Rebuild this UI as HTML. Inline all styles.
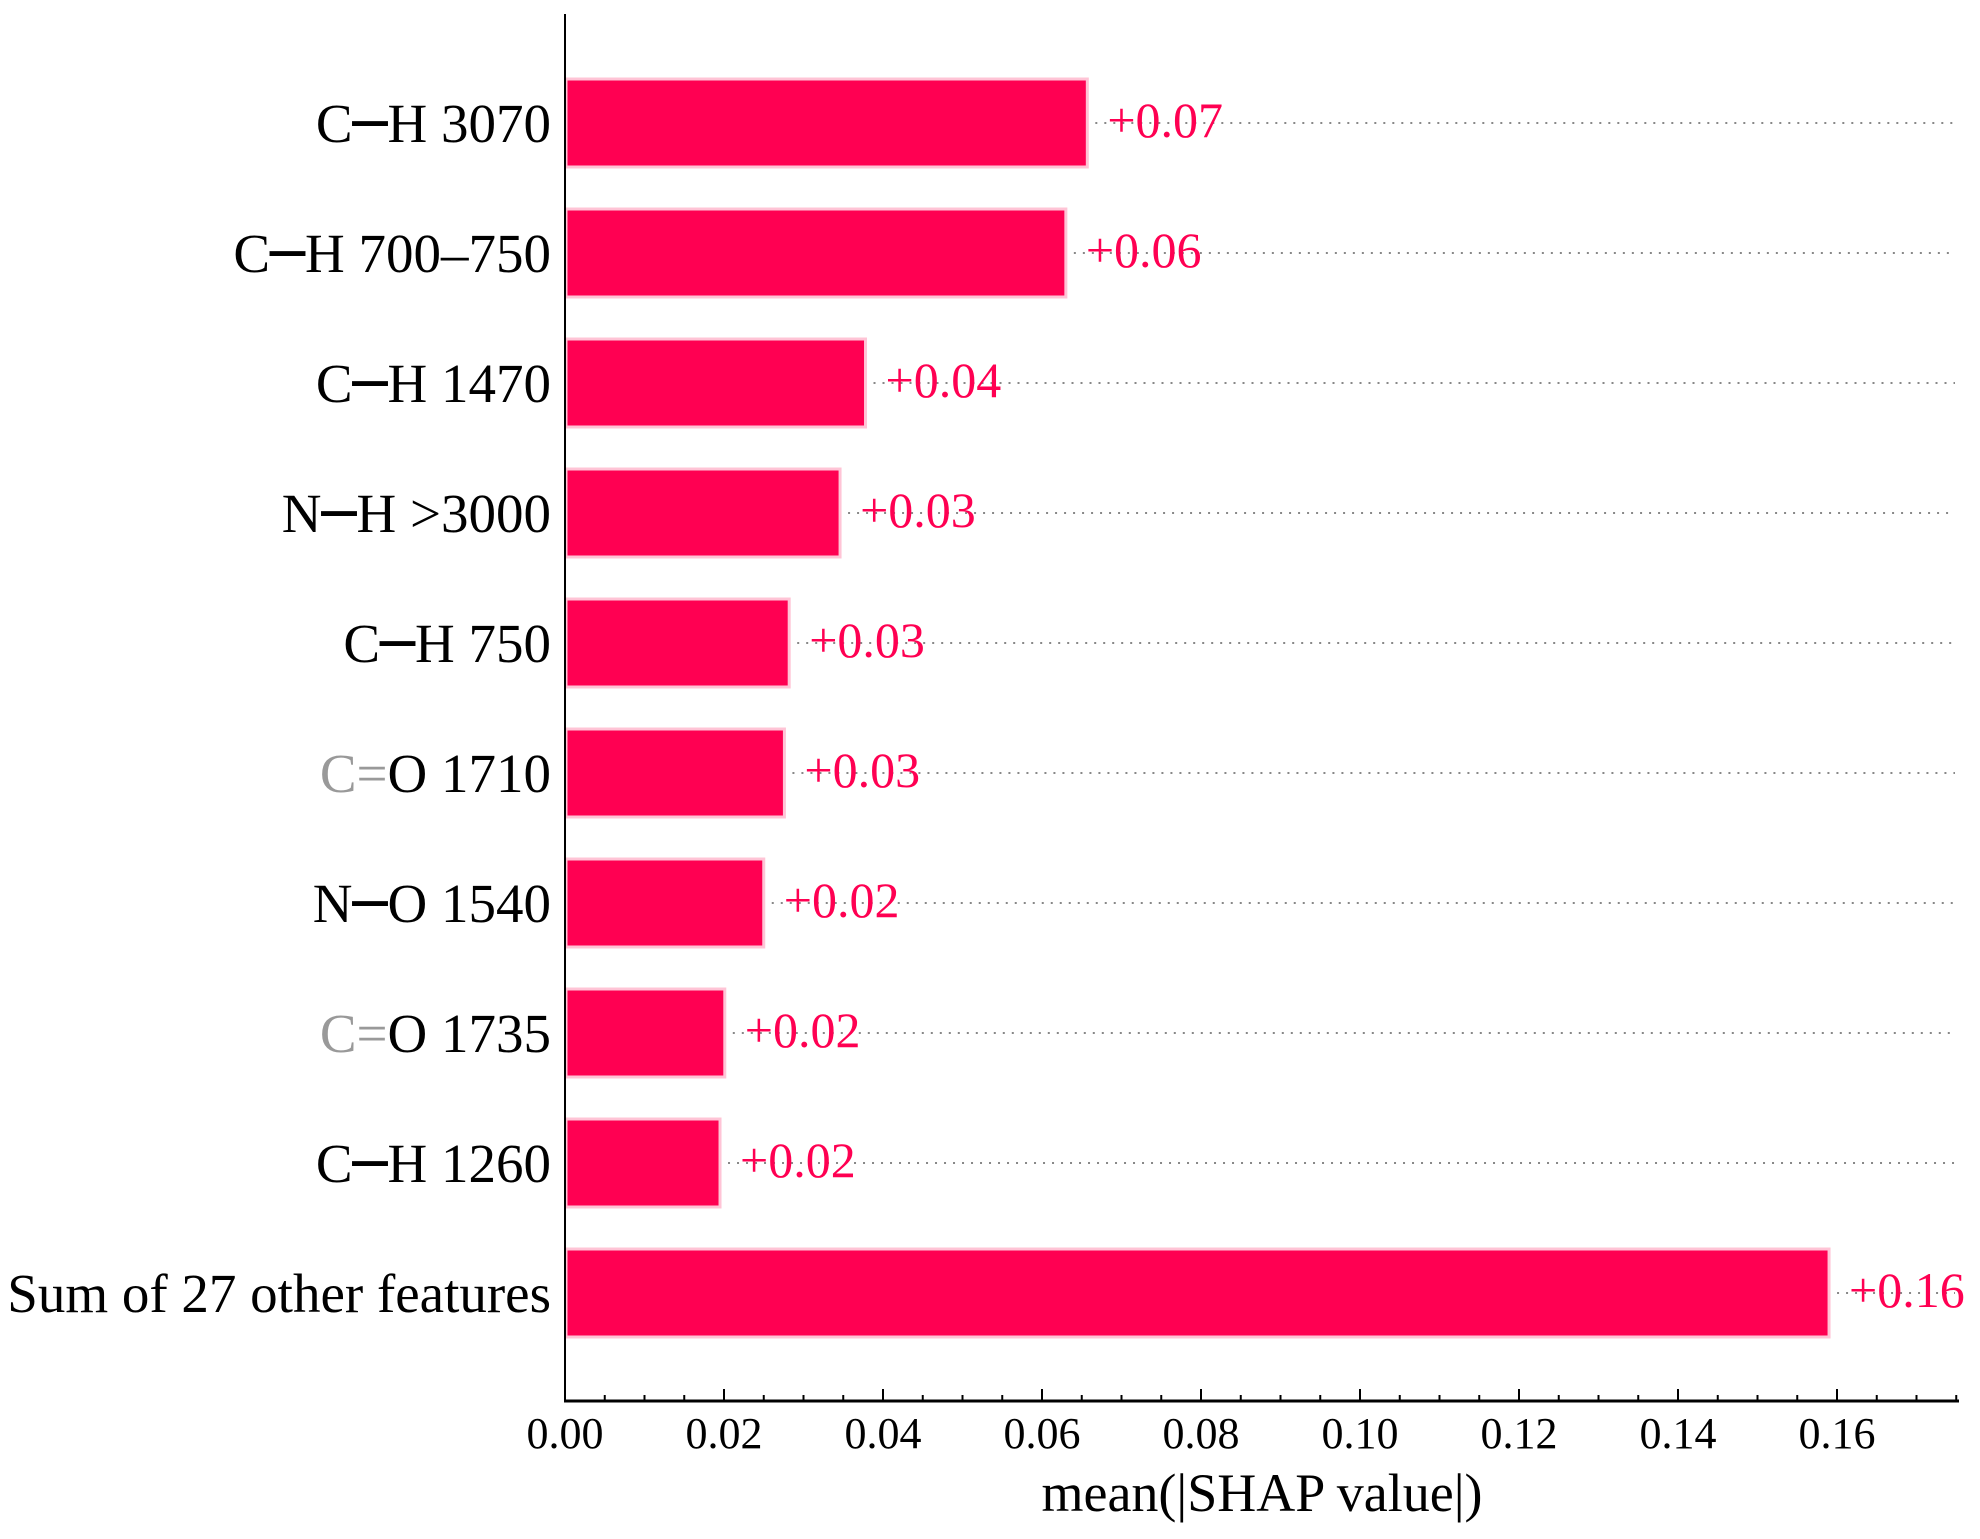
<!DOCTYPE html>
<html><head><meta charset="utf-8"><style>
html,body{margin:0;padding:0;background:#fff;}
svg{display:block;font-family:"Liberation Serif","DejaVu Serif",serif;}
</style></head><body>
<svg id="chart" width="1980" height="1539" viewBox="0 0 1980 1539" xmlns="http://www.w3.org/2000/svg"></svg>
<script>
const features = ["C—H 3070","C—H 700–750","C—H 1470","N—H >3000","C—H 750","C=O 1710","N—O 1540","C=O 1735","C—H 1260","Sum of 27 other features"];
const values = [0.0657,0.0630,0.0378,0.0346,0.0282,0.0276,0.0250,0.0201,0.0195,0.1590];
const valueLabels = ["+0.07","+0.06","+0.04","+0.03","+0.03","+0.03","+0.02","+0.02","+0.02","+0.16"];
const tickValues = [0,0.02,0.04,0.06,0.08,0.10,0.12,0.14,0.16];
const tickLabels = ["0.00","0.02","0.04","0.06","0.08","0.10","0.12","0.14","0.16"];

const NS="http://www.w3.org/2000/svg";
const svg=document.getElementById('chart');
const x0=565, pxPerUnit=7950, axisEnd=1959, axisY=1401, axisTop=14;
const rowTop=123, rowStep=130, barH=88;
function xs(v){return x0+v*pxPerUnit;}
function ys(i){return rowTop+i*rowStep;}
function mk(tag,attrs){const e=document.createElementNS(NS,tag);for(const k in attrs)e.setAttribute(k,attrs[k]);svg.appendChild(e);return e;}

features.forEach((f,i)=>{
  const cy=ys(i), v=values[i];
  const dl=mk('line',{x1:xs(v)+8,x2:1955,y1:cy,y2:cy,stroke:'#888','stroke-width':2,'stroke-dasharray':'2,7'});
  
  
  const r=mk('rect',{x:x0+1,y:cy-barH/2,width:xs(v)-x0-1,height:barH,fill:'#ff0052',stroke:'#ffc4d6','stroke-width':3});
  
  
  const t=mk('text',{x:xs(v)+20,y:cy+14,fill:'#ff0052','font-size':50});
  t.textContent=valueLabels[i];
  
  
  const l=mk('text',{x:551,y:cy+19,'text-anchor':'end','font-size':55,fill:'#000'});
  
  
  if(f.startsWith('C=')){
    const g=document.createElementNS(NS,'tspan');g.setAttribute('fill','#999');g.textContent='C=';l.appendChild(g);
    const b=document.createElementNS(NS,'tspan');b.textContent=f.slice(2);l.appendChild(b);
  } else if(f.includes('—')){
    const p=f.split('—');
    const a=document.createElementNS(NS,'tspan');a.textContent=p[0];l.appendChild(a);
    const d=document.createElementNS(NS,'tspan');d.setAttribute('font-weight','bold');d.setAttribute('font-size','70');d.setAttribute('dy','-2');d.textContent='–';l.appendChild(d);
    const c=document.createElementNS(NS,'tspan');c.setAttribute('dy','2');c.textContent=p[1];l.appendChild(c);
  } else l.textContent=f;
});

const ya=mk('line',{x1:x0,x2:x0,y1:axisTop,y2:axisY,stroke:'#000','stroke-width':2});


const xa=mk('line',{x1:x0-1,x2:axisEnd,y1:axisY,y2:axisY,stroke:'#000','stroke-width':3});


for(let m=0;m<=35;m++){
  const v=m*0.005; if(xs(v)>axisEnd)break;
  const major=(m%4===0);
  const tk=mk('line',{x1:xs(v),x2:xs(v),y1:axisY,y2:axisY-(major?12:6),stroke:'#000','stroke-width':2});
  
  
}
tickValues.forEach((v,i)=>{
  const t=mk('text',{x:xs(v),y:1448,'text-anchor':'middle','font-size':44,fill:'#000'});
  t.textContent=tickLabels[i];
  
  
});
const title=mk('text',{x:1262,y:1511,'text-anchor':'middle','font-size':54,fill:'#000'});
title.textContent='mean(|SHAP value|)';


</script>
</body></html>
